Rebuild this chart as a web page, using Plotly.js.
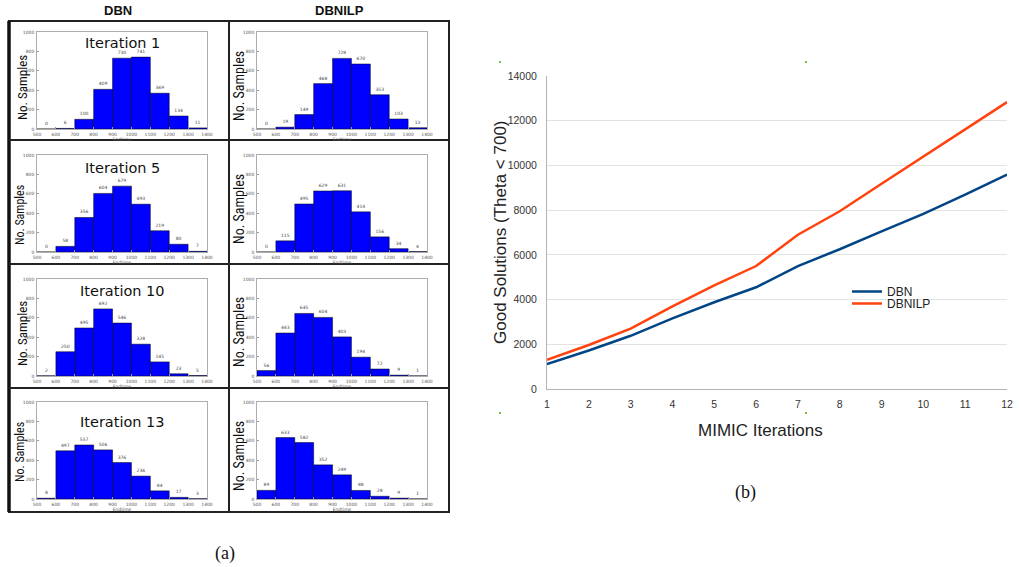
<!DOCTYPE html>
<html><head><meta charset="utf-8">
<script src="https://cdn.plot.ly/plotly-3.0.1.min.js"></script>
<style>html,body{margin:0;padding:0;background:#fff}#c{width:1019px;height:567px}</style>
</head><body><div id="c"></div>
<script>
// ---------- DATA ----------
const binCenters = [550, 650, 750, 850, 950, 1050, 1150, 1250, 1350];
const binTicks = [500, 600, 700, 800, 900, 1000, 1100, 1200, 1300, 1400];
const countTicks = [0, 200, 400, 600, 800, 1000];

const dbnIter1   = [0, 6, 100, 409, 730, 741, 369, 134, 11];
const dbnIter5   = [0, 58, 356, 604, 679, 493, 219, 80, 7];
const dbnIter10  = [2, 250, 495, 692, 546, 328, 145, 23, 5];
const dbnIter13  = [8, 497, 557, 506, 376, 236, 84, 17, 3];
const ilpIter1   = [0, 19, 149, 468, 728, 670, 353, 103, 13];
const ilpIter5   = [0, 115, 495, 629, 631, 414, 156, 34, 4];
const ilpIter10  = [56, 443, 645, 604, 403, 194, 72, 9, 1];
const ilpIter13  = [89, 633, 582, 352, 249, 88, 28, 9, 1];

const iterationNames = ["Iteration 1", "Iteration 5", "Iteration 10", "Iteration 13"];
const methodNames = ["DBN", "DBNILP"];

const mimicIterations = [1, 2, 3, 4, 5, 6, 7, 8, 9, 10, 11, 12];
const dbnGood    = [1110, 1720, 2380, 3160, 3880, 4550, 5500, 6250, 7050, 7830, 8690, 9590];
const dbnilpGood = [1300, 1970, 2700, 3700, 4640, 5500, 6900, 7950, 9180, 10400, 11600, 12830];
const goodTicks = [0, 2000, 4000, 6000, 8000, 10000, 12000, 14000];

// ---------- LAYOUT HELPERS ----------
const W = 1019, H = 567;
const px = x => x / W;
const py = y => 1 - y / H;

const histSeries = [
  [dbnIter1, ilpIter1],
  [dbnIter5, ilpIter5],
  [dbnIter10, ilpIter10],
  [dbnIter13, ilpIter13]
];
const colX = [[37, 207], [257, 427]];
const rowY = [[32, 129], [155, 252], [279, 376], [402, 499]];
const titleOffset = [11, 13, 12, 20];
const ylabPos = [ // [x, yCenter, size] per row per column
  [[22, 88, 13], [239, 86, 14]],
  [[20, 215, 12], [239, 209, 14]],
  [[22, 334, 13], [239, 332, 14]],
  [[20, 452, 12], [239, 456, 14]]
];

const traces = [];
const layout = {
  width: W, height: H,
  margin: {l: 0, r: 0, t: 0, b: 0},
  paper_bgcolor: '#fff', plot_bgcolor: '#fff',
  showlegend: true,
  annotations: [], shapes: [],
  font: {family: 'Liberation Sans, Arial, sans-serif'}
};

function note(x, y, text, font, extra) {
  return Object.assign({xref: 'paper', yref: 'paper', x: px(x), y: py(y), text: text,
    showarrow: false, xanchor: 'center', yanchor: 'middle', font: font}, extra || {});
}

const smallFont = {family: 'DejaVu Sans, sans-serif', size: 4.5, color: '#555'};
let idx = 1;
for (let r = 0; r < 4; r++) {
  for (let c = 0; c < 2; c++) {
    const xa = 'x' + idx, ya = 'y' + idx;
    const vals = histSeries[r][c];
    traces.push({
      type: 'bar', x: binCenters, y: vals, xaxis: xa, yaxis: ya,
      width: 100, marker: {color: '#0000ff', line: {color: '#000', width: 0.5}},
      text: vals.map(String), textposition: 'outside', cliponaxis: false,
      textfont: {family: 'DejaVu Sans, sans-serif', size: 4.5, color: '#444'},
      showlegend: false, hoverinfo: 'skip'
    });
    const axCommon = {showline: true, mirror: true, linecolor: '#999', linewidth: 0.8,
      ticks: 'inside', ticklen: 2, tickcolor: '#999', tickfont: smallFont,
      showgrid: false, zeroline: false, fixedrange: true};
    layout['xaxis' + idx] = Object.assign({}, axCommon, {
      domain: [px(colX[c][0]), px(colX[c][1])], anchor: ya,
      range: [binTicks[0], binTicks[binTicks.length - 1]], tickvals: binTicks,
      ticklabelstandoff: 1,
      title: {text: 'Endtime', font: smallFont, standoff: 1}
    });
    layout['yaxis' + idx] = Object.assign({}, axCommon, {
      domain: [py(rowY[r][1]), py(rowY[r][0])], anchor: xa,
      range: [0, 1000], tickvals: countTicks, ticklabelstandoff: 1
    });
    const lp = ylabPos[r][c];
    layout.annotations.push(note(lp[0], lp[1], 'No. Samples',
      {family: 'Liberation Sans Narrow, Roboto Condensed, Roboto, sans-serif', size: lp[2], color: '#111'},
      {textangle: -90}));
    if (c === 0) {
      layout.annotations.push(note((colX[0][0] + colX[0][1]) / 2, rowY[r][0] + titleOffset[r],
        iterationNames[r], {family: 'DejaVu Sans, sans-serif', size: 14.5, color: '#111'}));
    }
    idx++;
  }
}

// column headers
layout.annotations.push(
  note(118, 10, '<b>' + methodNames[0] + '</b>', {size: 13, color: '#111'}),
  note(339, 10, '<b>' + methodNames[1] + '</b>', {size: 13, color: '#111'})
);

// table borders
const border = {color: '#222', width: 2};
layout.shapes.push(
  {type: 'rect', xref: 'paper', yref: 'paper', x0: px(9), x1: px(449), y0: py(512), y1: py(21), line: border},
  {type: 'line', xref: 'paper', yref: 'paper', x0: px(9), x1: px(9), y0: py(512), y1: py(21), line: {color: '#111', width: 3.5}},
  {type: 'line', xref: 'paper', yref: 'paper', x0: px(229), x1: px(229), y0: py(512), y1: py(21), line: border},
  {type: 'line', xref: 'paper', yref: 'paper', x0: px(9), x1: px(449), y0: py(140), y1: py(140), line: border},
  {type: 'line', xref: 'paper', yref: 'paper', x0: px(9), x1: px(449), y0: py(264), y1: py(264), line: border},
  {type: 'line', xref: 'paper', yref: 'paper', x0: px(9), x1: px(449), y0: py(388), y1: py(388), line: border}
);

// ---------- LINE CHART ----------
traces.push(
  {type: 'scatter', mode: 'lines', x: mimicIterations, y: dbnGood, name: methodNames[0],
   xaxis: 'x9', yaxis: 'y9', legend: 'legend', line: {color: '#004586', width: 2.5}, hoverinfo: 'skip'},
  {type: 'scatter', mode: 'lines', x: mimicIterations, y: dbnilpGood, name: methodNames[1],
   xaxis: 'x9', yaxis: 'y9', legend: 'legend2', line: {color: '#ff420e', width: 2.5}, hoverinfo: 'skip'}
);
const tickFont = {family: 'Liberation Sans, Arial, sans-serif', size: 10.5, color: '#333'};
layout.xaxis9 = {
  domain: [px(547), px(1007)], anchor: 'y9', range: [1, 12], tickvals: mimicIterations,
  showline: true, linecolor: '#b3b3b3', linewidth: 1, showgrid: false, zeroline: false,
  ticks: '', tickfont: tickFont, ticklabelstandoff: 5, fixedrange: true
};
layout.yaxis9 = {
  domain: [py(389), py(76)], anchor: 'x9', range: [0, 14000], tickvals: goodTicks,
  tickformat: 'd',
  showline: true, linecolor: '#b3b3b3', linewidth: 1, showgrid: true, gridcolor: '#e3e3e3',
  zeroline: false, ticks: '', tickfont: tickFont, ticklabelstandoff: 7, fixedrange: true
};
layout.annotations.push(
  note(760, 430, 'MIMIC Iterations', {size: 17, color: '#222'}),
  note(500, 232, 'Good Solutions (Theta &lt; 700)', {size: 17, color: '#222'}, {textangle: -90}),
  note(225, 553, '(a)', {family: 'Liberation Serif, DejaVu Serif, serif', size: 18, color: '#111'}),
  note(745, 492, '(b)', {family: 'Liberation Serif, DejaVu Serif, serif', size: 18, color: '#111'})
);
const legendFont = {family: 'Liberation Sans, Arial, sans-serif', size: 12, color: '#222'};
layout.legend = {x: px(847), y: py(277), xanchor: 'left', yanchor: 'top',
  bgcolor: 'rgba(255,255,255,0)', borderwidth: 0, font: legendFont};
layout.legend2 = {x: px(847), y: py(289), xanchor: 'left', yanchor: 'top',
  bgcolor: 'rgba(255,255,255,0)', borderwidth: 0, font: legendFont};
// selection handle dots
[[500, 62], [806, 62], [500, 413], [806, 413]].forEach(p => {
  layout.shapes.push({type: 'rect', xref: 'paper', yref: 'paper',
    x0: px(p[0] - 1), x1: px(p[0] + 1), y0: py(p[1] + 1), y1: py(p[1] - 1),
    fillcolor: '#77c23a', line: {width: 0}});
});

Plotly.newPlot('c', traces, layout, {staticPlot: true, displayModeBar: false});
</script>
</body></html>
